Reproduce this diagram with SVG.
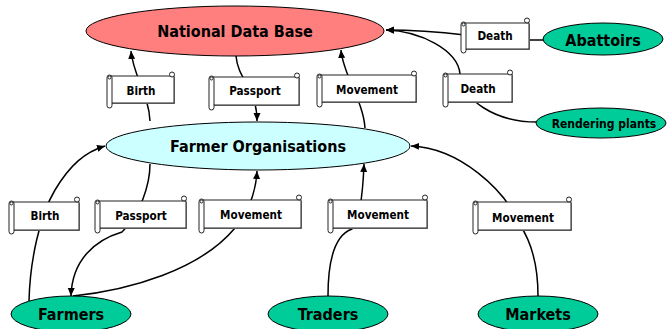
<svg xmlns="http://www.w3.org/2000/svg" width="667" height="329" viewBox="0 0 667 329">
<style>
.t{font-family:"DejaVu Sans Condensed","DejaVu Sans",sans-serif;font-weight:bold;fill:#000;text-anchor:middle}
.big{font-size:16px}
.sm{font-size:11.6px}
.c{fill:none;stroke:#000;stroke-width:1.5}
.sb{fill:#fff;stroke:#222;stroke-width:1}
.sh{fill:#888;stroke:none}
.g{fill:#00CC99;stroke:#000;stroke-width:1}
</style>
<defs>
<marker id="ar" markerUnits="userSpaceOnUse" markerWidth="9" markerHeight="8" refX="8" refY="3.5" orient="auto">
<path d="M0,0 L8,3.5 L0,7 z" fill="#000"/>
</marker>
</defs>
<rect width="667" height="329" fill="#fff"/>

<g id="connectors">
<path class="c" d="M150,121 C149,95 133,75 131,51" marker-end="url(#ar)"/>
<path class="c" d="M236,56 C238,80 257,88 257,121" marker-end="url(#ar)"/>
<path class="c" d="M365,128 C363,100 343,75 341,50" marker-end="url(#ar)"/>
<path class="c" d="M543,40 L525,40"/>
<path class="c" d="M465,35 C440,32 410,30 386,30" marker-end="url(#ar)"/>
<path class="c" d="M537,122 C495,122 462,100 460,74 C458,50 420,31 386,30" marker-end="url(#ar)"/>
<path class="c" d="M29,301 C30,260 40,215 55,190 C70,165 85,152 105,146" marker-end="url(#ar)"/>
<path class="c" d="M150,164 C150,185 140,215 122,232 C95,240 72,260 71,296" marker-end="url(#ar)"/>
<path class="c" d="M73,296 C130,290 200,270 235,228 C250,210 256,190 257,171" marker-end="url(#ar)"/>
<path class="c" d="M328,296 C328,260 335,235 352,229 C360,220 363,190 364,164" marker-end="url(#ar)"/>
<path class="c" d="M538,296 C538,260 530,240 520,225 C505,190 460,148 411,146" marker-end="url(#ar)"/>
</g>

<g id="ndb">
<ellipse cx="235" cy="31" rx="149" ry="25" fill="#FF7F7F" stroke="#000" stroke-width="1"/>
<text class="t big" x="235" y="37">National Data Base</text>
</g>
<g id="fo">
<ellipse cx="258" cy="146" rx="152" ry="24" fill="#CCFFFF" stroke="#000" stroke-width="1"/>
<text class="t big" x="258" y="152">Farmer Organisations</text>
</g>

<g id="abattoirs">
<ellipse class="g" cx="603" cy="39" rx="60" ry="16"/>
<text class="t big" x="603" y="46">Abattoirs</text>
</g>
<g id="rendering">
<ellipse class="g" cx="601" cy="123" rx="65" ry="15"/>
<text class="t" style="font-size:12px" x="604" y="128">Rendering plants</text>
</g>
<g id="farmers">
<ellipse class="g" cx="71" cy="314" rx="60" ry="18"/>
<text class="t big" x="71" y="320">Farmers</text>
</g>
<g id="traders">
<ellipse class="g" cx="328" cy="314" rx="60" ry="18"/>
<text class="t big" x="328" y="320">Traders</text>
</g>
<g id="markets">
<ellipse class="g" cx="538" cy="314" rx="60" ry="18"/>
<text class="t big" x="538" y="320">Markets</text>
</g>

<!-- scrolls -->
<g id="s-birth1">
<rect class="sh" x="111" y="77" width="64" height="27"/>
<rect class="sb" x="110" y="76" width="64" height="27"/>
<rect class="sb" x="107" y="75" width="5" height="33" rx="2.5"/>
<circle class="sb" cx="109.5" cy="77.5" r="1.5"/>
<circle class="sb" cx="172" cy="74.5" r="2.5"/>
<text class="t sm" x="141" y="95">Birth</text>
</g>
<g id="s-pass1">
<rect class="sh" x="213" y="78" width="87" height="28"/>
<rect class="sb" x="212" y="77" width="87" height="28"/>
<rect class="sb" x="209" y="76" width="5" height="34" rx="2.5"/>
<circle class="sb" cx="211.5" cy="78.5" r="1.5"/>
<circle class="sb" cx="297" cy="75.5" r="2.5"/>
<text class="t sm" x="255" y="95">Passport</text>
</g>
<g id="s-mov1">
<rect class="sh" x="321" y="76" width="96" height="27"/>
<rect class="sb" x="320" y="75" width="96" height="27"/>
<rect class="sb" x="317" y="74" width="5" height="33" rx="2.5"/>
<circle class="sb" cx="319.5" cy="76.5" r="1.5"/>
<circle class="sb" cx="414" cy="73.5" r="2.5"/>
<text class="t sm" x="367" y="94">Movement</text>
</g>
<g id="s-death1">
<rect class="sh" x="465" y="24" width="65" height="26"/>
<rect class="sb" x="464" y="23" width="65" height="26"/>
<rect class="sb" x="461" y="22" width="5" height="31" rx="2.5"/>
<circle class="sb" cx="463.5" cy="24.5" r="1.5"/>
<circle class="sb" cx="527" cy="20.5" r="2.5"/>
<text class="t sm" x="495" y="40">Death</text>
</g>
<g id="s-death2">
<rect class="sh" x="447" y="75" width="66" height="28"/>
<rect class="sb" x="446" y="74" width="66" height="28"/>
<rect class="sb" x="443" y="73" width="5" height="34" rx="2.5"/>
<circle class="sb" cx="445.5" cy="75.5" r="1.5"/>
<circle class="sb" cx="510" cy="72.5" r="2.5"/>
<text class="t sm" x="478" y="93">Death</text>
</g>
<g id="s-birth2">
<rect class="sh" x="13" y="203" width="67" height="28"/>
<rect class="sb" x="12" y="202" width="67" height="28"/>
<rect class="sb" x="9" y="201" width="5" height="33" rx="2.5"/>
<circle class="sb" cx="11.5" cy="203.5" r="1.5"/>
<circle class="sb" cx="77" cy="199.5" r="2.5"/>
<text class="t sm" x="45" y="220">Birth</text>
</g>
<g id="s-pass2">
<rect class="sh" x="99" y="202" width="88" height="27"/>
<rect class="sb" x="98" y="201" width="88" height="27"/>
<rect class="sb" x="95" y="200" width="5" height="33" rx="2.5"/>
<circle class="sb" cx="97.5" cy="202.5" r="1.5"/>
<circle class="sb" cx="184" cy="198.5" r="2.5"/>
<text class="t sm" x="141" y="220">Passport</text>
</g>
<g id="s-mov2">
<rect class="sh" x="203" y="201" width="99" height="28"/>
<rect class="sb" x="202" y="200" width="99" height="28"/>
<rect class="sb" x="199" y="199" width="5" height="34" rx="2.5"/>
<circle class="sb" cx="201.5" cy="201.5" r="1.5"/>
<circle class="sb" cx="299" cy="197.5" r="2.5"/>
<text class="t sm" x="251" y="219">Movement</text>
</g>
<g id="s-mov3">
<rect class="sh" x="332" y="201" width="96" height="28"/>
<rect class="sb" x="331" y="200" width="96" height="28"/>
<rect class="sb" x="328" y="199" width="5" height="34" rx="2.5"/>
<circle class="sb" cx="330.5" cy="201.5" r="1.5"/>
<circle class="sb" cx="425" cy="197.5" r="2.5"/>
<text class="t sm" x="378" y="219">Movement</text>
</g>
<g id="s-mov4">
<rect class="sh" x="477" y="203" width="95" height="28"/>
<rect class="sb" x="476" y="202" width="95" height="28"/>
<rect class="sb" x="473" y="201" width="5" height="33" rx="2.5"/>
<circle class="sb" cx="475.5" cy="203.5" r="1.5"/>
<circle class="sb" cx="569" cy="199.5" r="2.5"/>
<text class="t sm" x="523" y="222">Movement</text>
</g>
</svg>
